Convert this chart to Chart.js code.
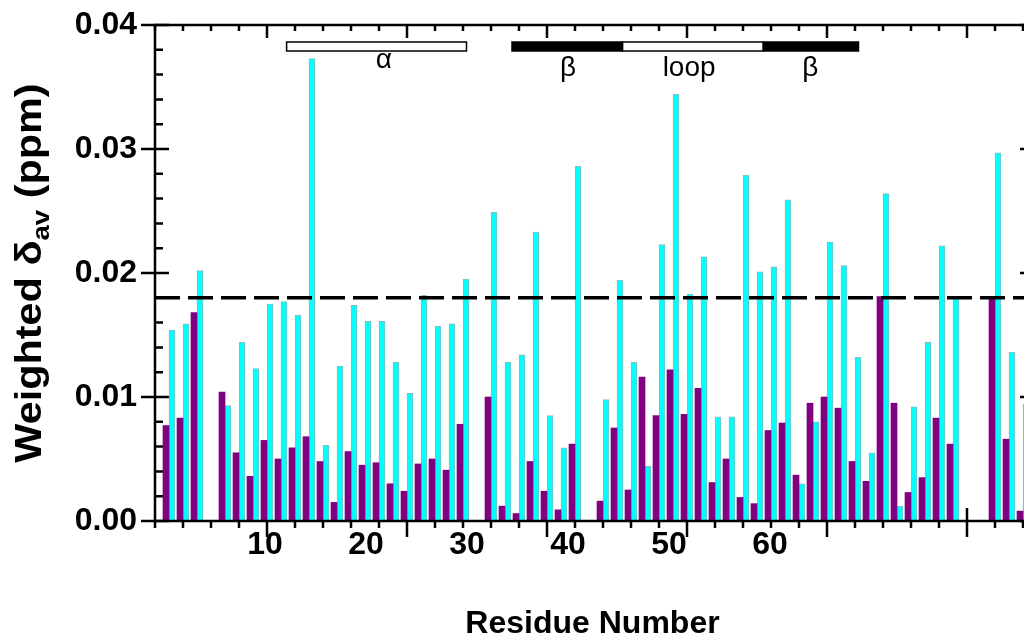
<!DOCTYPE html>
<html>
<head>
<meta charset="utf-8">
<script src="https://cdn.jsdelivr.net/npm/chart.js"></script>
<style>
  html, body { margin: 0; padding: 0; background: #fff; overflow: hidden; }
  #wrap { position: absolute; left: 0; top: 0; width: 1044px; height: 637px; }
</style>
</head>
<body>
<div id="wrap"><canvas id="myChart"></canvas></div>
<script>
// residues and the two shift series (ppm)
const residues = [3, 4, 5, 7, 8, 9, 10, 11, 12, 13, 14, 15, 16, 17, 18, 19, 20, 21, 22, 23, 24,
  26, 27, 28, 29, 30, 31, 32, 34, 35, 36, 37, 38, 39, 40, 41, 42, 43, 44, 45, 46, 47, 48, 49,
  50, 51, 52, 53, 54, 55, 56, 57, 58, 59, 62, 63, 64];
const purpleValues = [0.0077, 0.0083, 0.0168, 0.0104, 0.0055, 0.0036, 0.0065, 0.0050, 0.0059, 0.0068,
  0.0048, 0.0015, 0.0056, 0.0045, 0.0047, 0.0030, 0.0024, 0.0046, 0.0050, 0.0041, 0.0078,
  0.0100, 0.0012, 0.0006, 0.0048, 0.0024, 0.0009, 0.0062, 0.0016, 0.0075, 0.0025, 0.0116,
  0.0085, 0.0122, 0.0086, 0.0107, 0.0031, 0.0050, 0.0019, 0.0014, 0.0073, 0.0079, 0.0037,
  0.0095, 0.0100, 0.0091, 0.0048, 0.0032, 0.0181, 0.0095, 0.0023, 0.0035, 0.0083, 0.0062,
  0.0181, 0.0066, 0.0008];
const cyanValues = [0.0154, 0.0159, 0.0202, 0.0093, 0.0144, 0.0123, 0.0175, 0.0177, 0.0166, 0.0373,
  0.0061, 0.0125, 0.0174, 0.0161, 0.0161, 0.0128, 0.0103, 0.0182, 0.0157, 0.0159, 0.0195,
  0.0249, 0.0128, 0.0134, 0.0233, 0.0085, 0.0059, 0.0286, 0.0098, 0.0194, 0.0128, 0.0044,
  0.0223, 0.0344, 0.0183, 0.0213, 0.0084, 0.0084, 0.0279, 0.0201, 0.0205, 0.0259, 0.0030,
  0.0080, 0.0225, 0.0206, 0.0132, 0.0055, 0.0264, 0.0012, 0.0092, 0.0144, 0.0222, 0.0181,
  0.0297, 0.0136, 0.0094];

const yTickLabels = [0, 0.01, 0.02, 0.03, 0.04];
const xTickLabels = [10, 20, 30, 40, 50, 60];
const cutoff = 0.018;

// secondary structure along the sequence
const structStart = [11.4, 27.5, 35.4, 45.45];
const structEnd = [24.25, 35.4, 45.45, 52.25];
const structKind = ['helix', 'strand', 'loop', 'strand'];
const structLabels = ['α', 'β', 'loop', 'β'];
const structLabelAt = [18.35, 31.5, 40.15, 48.8];

const FONT = '"Liberation Sans", Arial, sans-serif';
Chart.defaults.font.family = FONT;
Chart.defaults.color = '#000';

const frame = {
  id: 'frame',
  beforeDatasetsDraw(chart) {
    const { ctx, chartArea: a, scales: { x, y } } = chart;
    ctx.save();
    ctx.strokeStyle = '#000';
    ctx.lineWidth = 2.5;
    ctx.beginPath();
    for (let r = Math.ceil(x.min / 2) * 2; r <= x.max; r += 2) {
      const px = x.getPixelForValue(r);
      const major = r % 10 === 0;
      ctx.moveTo(px, a.top);
      ctx.lineTo(px, a.top + (major ? 13 : 6));
      ctx.moveTo(px, a.bottom + (major ? 16 : 7));
      ctx.lineTo(px, major ? a.bottom - 13 : a.bottom);
    }
    for (let i = 0; i <= 20; i++) {
      const py = y.getPixelForValue(i * 0.002);
      if (i % 5 === 0) {
        ctx.moveTo(a.left - 14, py);
        ctx.lineTo(a.left + 14, py);
        ctx.moveTo(a.right - 10, py);
        ctx.lineTo(a.right, py);
      } else {
        ctx.moveTo(a.left, py);
        ctx.lineTo(a.left + 8, py);
      }
    }
    ctx.stroke();
    ctx.restore();
  },
  afterDatasetsDraw(chart) {
    const { ctx, chartArea: a, scales: { y } } = chart;
    ctx.save();
    // cutoff line
    const py = y.getPixelForValue(cutoff);
    ctx.strokeStyle = '#000';
    ctx.lineWidth = 3.5;
    ctx.setLineDash([25, 8]);
    ctx.beginPath();
    ctx.moveTo(a.left, py);
    ctx.lineTo(a.right, py);
    ctx.stroke();
    ctx.setLineDash([]);
    // box
    ctx.lineWidth = 2.5;
    ctx.strokeRect(a.left, a.top, a.right - a.left, a.bottom - a.top);
    ctx.restore();
  },
  afterDraw(chart) {
    const { ctx, chartArea: a, scales: { x } } = chart;
    ctx.save();
    // structure bars
    ctx.lineWidth = 1.5;
    ctx.strokeStyle = '#000';
    for (let i = 0; i < structStart.length; i++) {
      const x0 = x.getPixelForValue(structStart[i]);
      const x1 = x.getPixelForValue(structEnd[i]);
      ctx.fillStyle = structKind[i] === 'strand' ? '#000' : '#fff';
      ctx.fillRect(x0, a.top + 17, x1 - x0, 9);
      ctx.strokeRect(x0, a.top + 17, x1 - x0, 9);
    }
    ctx.fillStyle = '#000';
    ctx.font = '28px ' + FONT;
    ctx.textAlign = 'center';
    ctx.textBaseline = 'alphabetic';
    for (let i = 0; i < structLabels.length; i++) {
      const drop = structKind[i] === 'helix' ? 43 : 51;
      ctx.fillText(structLabels[i], x.getPixelForValue(structLabelAt[i]), a.top + drop);
    }
    // y title with subscript
    const parts = [
      ['Weighted δ', 'bold 36px ' + FONT, 0],
      ['av', 'bold 24px ' + FONT, 8],
      [' (ppm)', 'bold 36px ' + FONT, 0]
    ];
    ctx.translate(41, (a.top + a.bottom) / 2);
    ctx.rotate(-Math.PI / 2);
    ctx.scale(1.15, 1);
    ctx.textAlign = 'left';
    let total = 0;
    parts.forEach(p => { ctx.font = p[1]; total += ctx.measureText(p[0]).width; });
    let cx = -total / 2;
    parts.forEach(p => {
      ctx.font = p[1];
      ctx.fillText(p[0], cx, p[2]);
      cx += ctx.measureText(p[0]).width;
    });
    ctx.restore();
  }
};

const ctx = document.querySelector('#myChart');

new Chart(ctx, {
  type: 'bar',
  data: {
    datasets: [{
      label: 'purple',
      data: residues.map((r, i) => ({ x: r, y: purpleValues[i] })),
      backgroundColor: '#800080',
      borderWidth: 0,
      barThickness: 6
    }, {
      label: 'cyan',
      data: residues.map((r, i) => ({ x: r, y: cyanValues[i] })),
      backgroundColor: '#00ffff',
      borderColor: '#8fb8b8',
      borderWidth: 1,
      barThickness: 6
    }]
  },
  options: {
    responsive: true,
    maintainAspectRatio: false,
    animation: false,
    layout: { padding: { left: 0, top: 25, right: 14, bottom: 0 } },
    plugins: { legend: { display: false }, tooltip: { enabled: false } },
    scales: {
      x: { type: 'linear', display: false, min: 2, max: 64.5, offset: false },
      xl: {
        type: 'linear',
        position: 'bottom',
        min: -0.891,
        max: 85.74,
        offset: false,
        grid: { display: false, drawTicks: false },
        border: { display: false },
        afterBuildTicks: (s) => { s.ticks = xTickLabels.map(v => ({ value: v })); },
        ticks: { font: { size: 32, weight: 'bold' }, padding: 5, autoSkip: false, maxRotation: 0 },
        title: {
          display: true,
          text: 'Residue Number',
          font: { size: 32, weight: 'bold', lineHeight: 1 },
          padding: { top: 0, bottom: -3 }
        },
        afterFit: (s) => {
          s.height = 116;
          s.paddingLeft = 0;
          s.paddingRight = 0;
        }
      },
      y: {
        min: 0,
        max: 0.04,
        afterBuildTicks: (s) => { s.ticks = yTickLabels.map(v => ({ value: v })); },
        ticks: { callback: (v) => v.toFixed(2), font: { size: 32, weight: 'bold' }, padding: 18 },
        grid: { display: false, drawTicks: false },
        border: { display: false },
        afterFit: (s) => {
          s.width = 155;
          s.paddingTop = 0;
          s.paddingBottom = 0;
        }
      }
    }
  },
  plugins: [frame]
});
</script>
</body>
</html>
